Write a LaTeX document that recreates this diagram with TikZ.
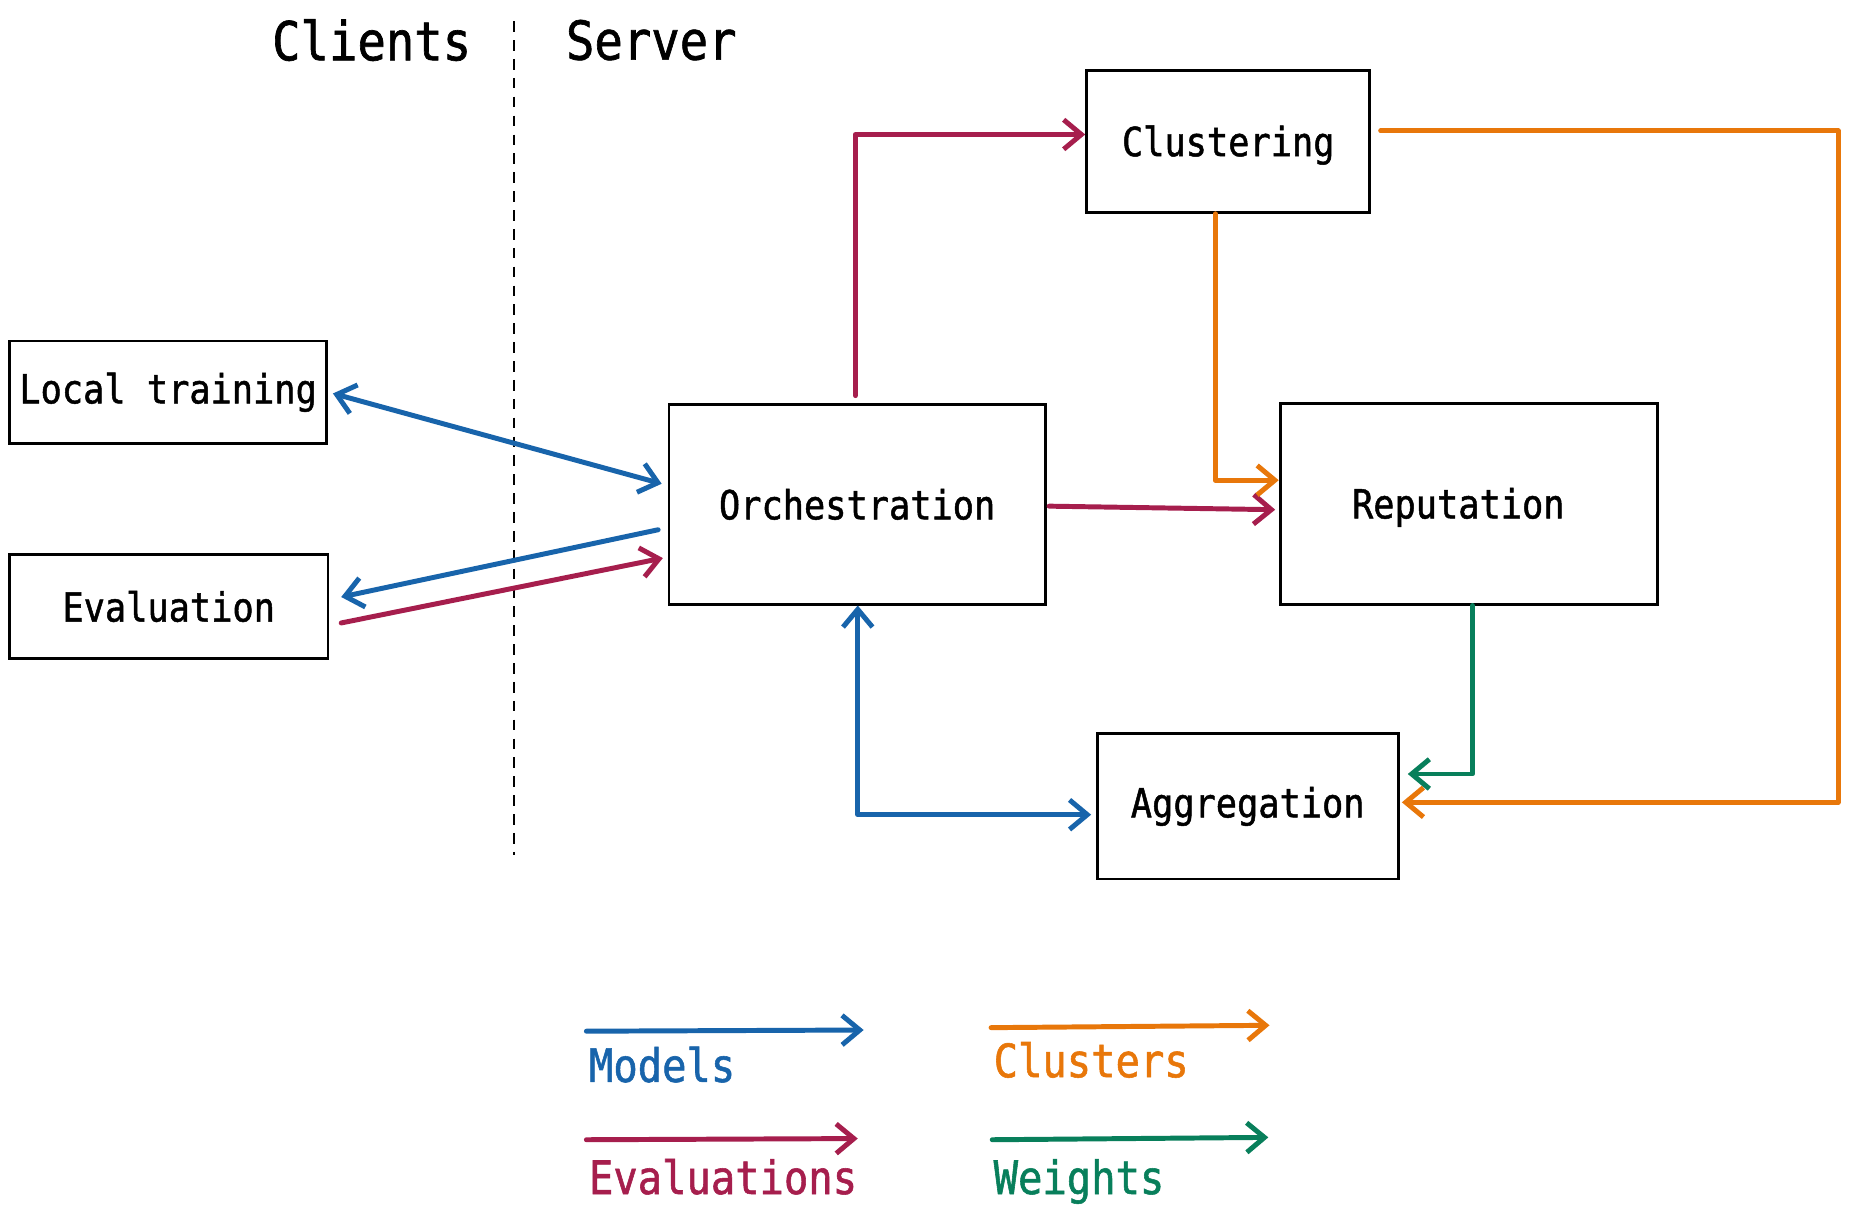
\documentclass[tikz,border=0pt]{standalone}
\usepackage{fontspec}
\usetikzlibrary{arrows.meta,calc}
\newfontfamily\dmono{DejaVu Sans Mono}[FakeStretch=0.88,FakeBold=1.2]
\definecolor{cblue}{HTML}{1864AB}
\definecolor{cred}{HTML}{A61E4D}
\definecolor{corange}{HTML}{E8770A}
\definecolor{cgreen}{HTML}{087F5B}
\tikzset{
  box/.style={draw=black, line width=2.4pt, inner sep=0pt, font=\dmono\fontsize{34}{40}\selectfont},
  conn/.style={line width=4.2pt, line cap=round, line join=round, arrows={-Straight Barb[length=15pt,width=25pt,line width=4.2pt]}},
  dconn/.style={line width=4.2pt, line cap=round, line join=round, arrows={Straight Barb[length=15pt,width=25pt,line width=4.2pt]-Straight Barb[length=15pt,width=25pt,line width=4.2pt]}},
  ttl/.style={font=\dmono\fontsize{45.5}{52}\selectfont},
  lgd/.style={anchor=base west, inner sep=0pt, font=\dmono\fontsize{39}{46}\selectfont},
}
\begin{document}
\begin{tikzpicture}[x=1pt,y=-1pt]
\useasboundingbox[fill=white] (0,0) rectangle (1568,1028);
% titles and divider
\node[ttl] (tc) at (315,34) {Clients};
\node[ttl] (ts) at (552,34) {Server};
\coordinate (dtop) at (436,18);
\coordinate (dbot) at (436,725);
\draw[dashed, line width=1.8pt, dash pattern=on 9pt off 7pt] (dtop) -- (dbot);
% boxes
\node[box, minimum width=269pt, minimum height=87pt] (lt) at (142.5,332.5) {Local training};
\node[box, minimum width=270pt, minimum height=88pt] (ev) at (143,514) {Evaluation};
\node[box, minimum width=319pt, minimum height=169pt] (orch) at (726.5,427.5) {Orchestration};
\node[box, minimum width=240pt, minimum height=120pt] (clus) at (1041,120) {\raisebox{-3pt}[\height][\depth]{Clustering}};
\node[box, minimum width=320pt, minimum height=170pt] (rep) at (1245,427) {\hspace*{-18pt}\raisebox{-3pt}[\height][\depth]{Reputation}};
\node[box, minimum width=255pt, minimum height=123pt] (agg) at (1057.5,683.5) {Aggregation};
\coordinate (rt) at (1558,400);
% connectors
\draw[dconn, cblue] ($(lt.east)+(4,1)$) -- ($(orch.west)+(-5,-17.5)$);
\draw[conn, cblue] ($(orch.west)+(-8,21.5)$) -- ($(ev.east)+(10,-8)$);
\draw[conn, cred] ($(ev.east)+(10,14)$) -- ($(orch.west)+(-4,45.5)$);
\draw[conn, cred] ($(orch.north)+(-1.5,-6.5)$) |- ($(clus.west)+(0,-6)$);
\draw[conn, cred] ($(orch.east)+(2,1.5)$) -- ($(rep.west)+(-3,5)$);
\draw[conn, corange] ($(clus.south)+(-11,0)$) |- ($(rep.west)+(0,-20)$);
\coordinate (cs) at ($(clus.east)+(8,-9)$);
\coordinate (ce) at ($(agg.east)+(2,-3.5)$);
\draw[conn, corange] (cs) -- (cs -| rt) -- (rt |- ce) -- (ce);
\draw[conn, cgreen] ($(rep.south)+(3,0)$) |- ($(agg.east)+(7,-27.5)$);
\draw[dconn, cblue] ($(orch.south)+(0.5,0)$) |- ($(agg.west)+(-4,7)$);
% legend
\coordinate (lma) at (497,874); \coordinate (lmb) at (732,873);
\coordinate (lca) at (840,871); \coordinate (lcb) at (1076,869);
\coordinate (lea) at (497,966); \coordinate (leb) at (727,965);
\coordinate (lwa) at (841,966); \coordinate (lwb) at (1075,964);
\draw[conn, cblue] (lma) -- (lmb);
\draw[conn, corange] (lca) -- (lcb);
\draw[conn, cred] (lea) -- (leb);
\draw[conn, cgreen] (lwa) -- (lwb);
\node[lgd, text=cblue] (lm) at (499,917) {Models};
\node[lgd, text=corange] (lc) at (842,913) {Clusters};
\node[lgd, text=cred] (le) at (499,1012) {Evaluations};
\node[lgd, text=cgreen] (lw) at (842,1012) {Weights};
\end{tikzpicture}
\end{document}
